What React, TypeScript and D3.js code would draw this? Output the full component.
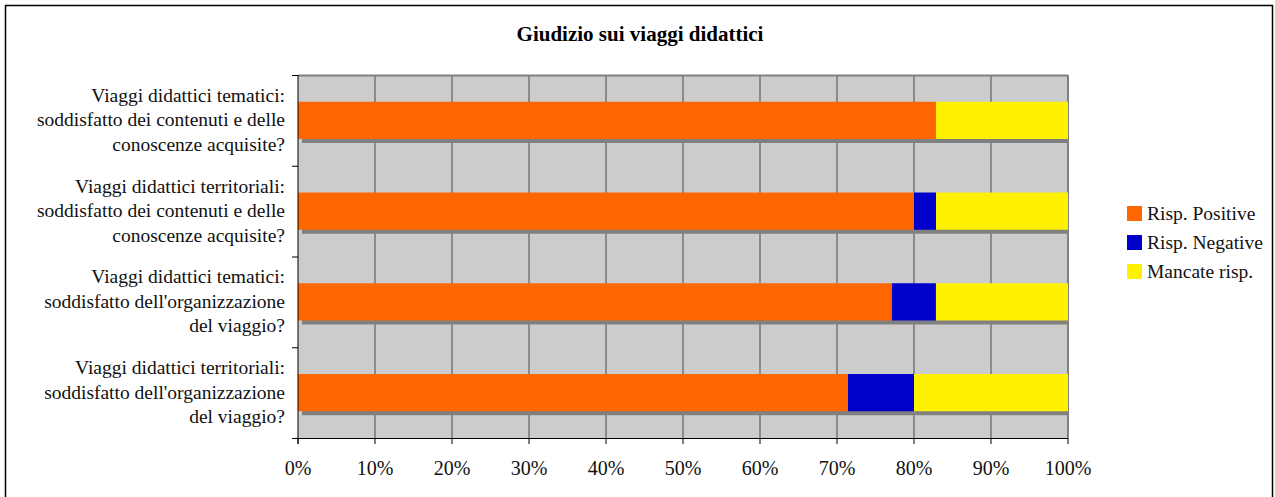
import React from 'react';
import * as d3 from 'd3';

const categories = ['q1', 'q2', 'q3', 'q4'];
const categoryLabels = [
  ['Viaggi didattici tematici:', 'soddisfatto dei contenuti e delle', 'conoscenze acquisite?'],
  ['Viaggi didattici territoriali:', 'soddisfatto dei contenuti e delle', 'conoscenze acquisite?'],
  ['Viaggi didattici tematici:', "soddisfatto dell'organizzazione", 'del viaggio?'],
  ['Viaggi didattici territoriali:', "soddisfatto dell'organizzazione", 'del viaggio?'],
];
const seriesNames = ['Risp. Positive', 'Risp. Negative', 'Mancate risp.'];
const seriesColors = ['#ff6600', '#0000cc', '#fff200'];
const positive = [82.86, 80.0, 77.14, 71.43];
const negative = [0, 2.86, 5.71, 8.57];
const missing = [17.14, 17.14, 17.15, 20.0];
const xTicks = [0, 10, 20, 30, 40, 50, 60, 70, 80, 90, 100];

const W = 1275;
const H = 497;
const font = '"Liberation Serif", "Times New Roman", serif';

const App = () => {
  const left = 298, right = 1068, top = 75, bottom = 438;

  const x = d3.scaleLinear().domain([0, 100]).range([left, right]);
  const y = d3.scaleBand<string>().domain(categories).range([top, bottom]).padding(0);
  const barH = y.bandwidth() * 0.41;

  const rows = categories.map((c, i) => ({ cat: c, pos: positive[i], neg: negative[i], miss: missing[i] }));
  const stack = d3.stack<any>().keys(['pos', 'neg', 'miss'])(rows);

  const boundaries = categories.map(c => y(c)!).concat([bottom]);

  return (
    <svg width={W} height={H} style={{ position: 'absolute', left: 0, top: 0, background: '#fff' }}>
      <rect x={5.5} y={5.5} width={1267} height={500} fill="#fff" stroke="#000" strokeWidth={1.5} />

      <text x={640} y={41} textAnchor="middle" fontFamily={font} fontWeight="bold" fontSize={21}>
        Giudizio sui viaggi didattici
      </text>

      {/* plot area */}
      <rect x={left} y={top} width={right - left} height={bottom - top} fill="#cccccc" />
      {xTicks.slice(1).map(t => (
        <line key={t} x1={x(t)} x2={x(t)} y1={top} y2={bottom} stroke={t === 100 ? '#808080' : '#4a4a4a'} strokeWidth={t === 100 ? 2 : 1} />
      ))}
      <line x1={left} x2={right} y1={top + 0.5} y2={top + 0.5} stroke="#808080" strokeWidth={2} />

      {/* bar shadows */}
      {categories.map(c => {
        const yy = y(c)! + (y.bandwidth() - barH) / 2;
        return <rect key={'s' + c} x={x(0) + 4} y={yy + 4} width={right - x(0) - 4} height={barH} fill="#808080" />;
      })}

      {stack.map((s, si) =>
        s.map((d, i) => {
          const yy = y(categories[i])! + (y.bandwidth() - barH) / 2;
          const w = x(d[1]) - x(d[0]);
          return w > 0 ? (
            <rect key={si + '-' + i} x={x(d[0])} y={yy} width={w} height={barH} fill={seriesColors[si]} />
          ) : null;
        })
      )}

      {/* axes */}
      <line x1={left} x2={left} y1={top} y2={bottom + 6} stroke="#000" />
      <line x1={left - 6} x2={right} y1={bottom + 0.5} y2={bottom + 0.5} stroke="#000" />
      {boundaries.map((b, i) => (
        <line key={'yt' + i} x1={left - 6} x2={left} y1={b + 0.5} y2={b + 0.5} stroke="#000" />
      ))}
      {xTicks.map(t => (
        <g key={'xt' + t}>
          <line x1={x(t)} x2={x(t)} y1={bottom} y2={bottom + 6} stroke="#000" />
          <text x={x(t)} y={475} textAnchor="middle" fontFamily={font} fontSize={20} fill="#111">
            {t}%
          </text>
        </g>
      ))}

      {categories.map((c, i) => {
        const cy = y(c)! + y.bandwidth() / 2;
        return (
          <text key={'cl' + c} textAnchor="end" fontFamily={font} fontSize={19.5} fill="#111">
            {categoryLabels[i].map((ln, k) => (
              <tspan key={k} x={285} y={cy + (k - 1) * 24.5 + 6}>{ln}</tspan>
            ))}
          </text>
        );
      })}

      {/* legend */}
      {seriesNames.map((n, i) => (
        <g key={n} transform={`translate(1127,${206 + i * 29})`}>
          <rect x={0} y={0} width={15} height={15} fill={seriesColors[i]} />
          <text x={20} y={14} fontFamily={font} fontSize={19.5} fill="#111">{n}</text>
        </g>
      ))}
    </svg>
  );
};

export default App;
